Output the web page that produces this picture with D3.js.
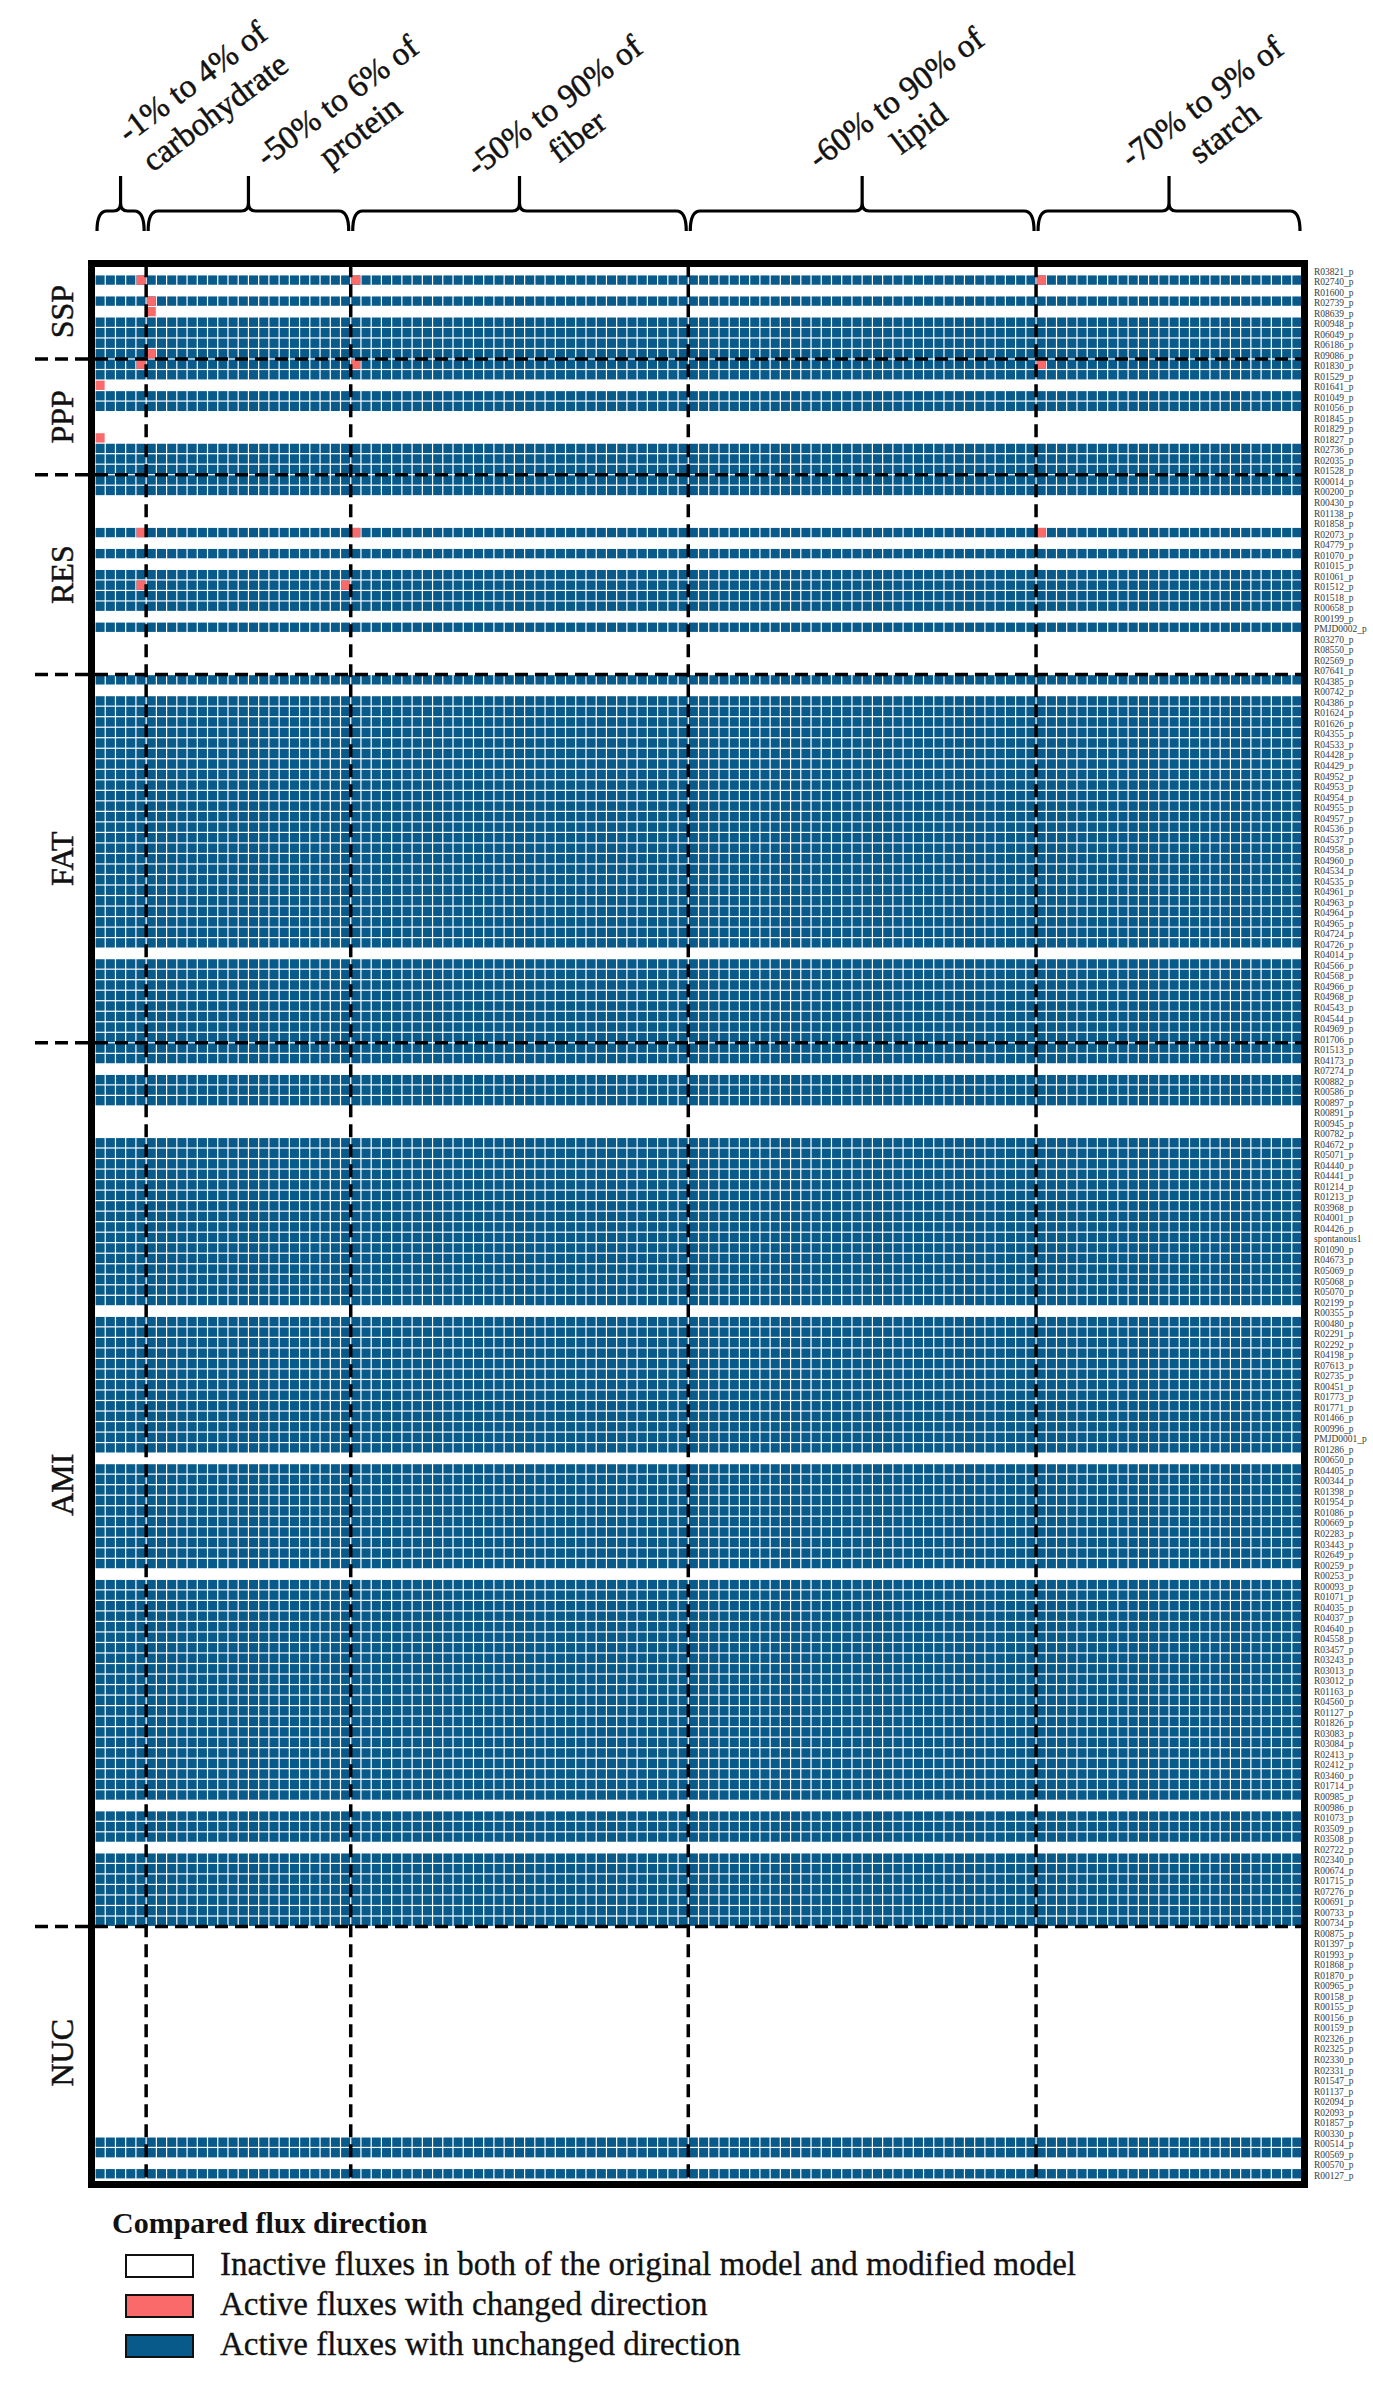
<!DOCTYPE html>
<html>
<head>
<meta charset="utf-8">
<script src="https://cdn.jsdelivr.net/npm/d3@7/dist/d3.min.js"></script>
<style>
  body { margin: 0; background: #fff; }
  text { font-family: "Palatino Linotype", "Book Antiqua", Palatino, "Liberation Serif", serif; }
  .heavy { stroke: #111; stroke-width: 0.5px; }
</style>
</head>
<body>
<div id="chart"></div>
<script>
// nutrient groups along the columns (one column per tested change)
var groupNames  = ["carbohydrate", "protein", "fiber", "lipid", "starch"];
var groupRanges = ["-1% to 4% of", "-50% to 6% of", "-50% to 90% of", "-60% to 90% of", "-70% to 9% of"];
var groupSizes  = [5, 20, 33, 34, 26];

// pathway sections along the rows
var sectionNames = ["SSP", "PPP", "RES", "FAT", "AMI", "NUC"];

var ssp = ["R03821_p","R02740_p","R01600_p","R02739_p","R08639_p","R00948_p","R06049_p","R06186_p","R09086_p"];
var sspActive = [0,1,0,1,0,1,1,1,1];

var ppp = ["R01830_p","R01529_p","R01641_p","R01049_p","R01056_p","R01845_p","R01829_p","R01827_p","R02736_p","R02035_p","R01528_p"];
var pppActive = [1,1,0,1,1,0,0,0,1,1,1];

var res = ["R00014_p","R00200_p","R00430_p","R01138_p","R01858_p","R02073_p","R04779_p","R01070_p","R01015_p","R01061_p",
           "R01512_p","R01518_p","R00658_p","R00199_p","PMJD0002_p","R03270_p","R08550_p","R02569_p","R07641_p"];
var resActive = [1,1,0,0,0,1,0,1,0,1, 1,1,1,0,1,0,0,0,0];

var fat = ["R04385_p","R00742_p","R04386_p","R01624_p","R01626_p","R04355_p","R04533_p","R04428_p","R04429_p","R04952_p",
           "R04953_p","R04954_p","R04955_p","R04957_p","R04536_p","R04537_p","R04958_p","R04960_p","R04534_p","R04535_p",
           "R04961_p","R04963_p","R04964_p","R04965_p","R04724_p","R04726_p","R04014_p","R04566_p","R04568_p","R04966_p",
           "R04968_p","R04543_p","R04544_p","R04969_p","R01706_p"];
var fatActive = [1,0,1,1,1,1,1,1,1,1, 1,1,1,1,1,1,1,1,1,1, 1,1,1,1,1,1,0,1,1,1, 1,1,1,1,1];

var ami = ["R01513_p","R04173_p","R07274_p","R00882_p","R00586_p","R00897_p","R00891_p","R00945_p","R00782_p","R04672_p",
           "R05071_p","R04440_p","R04441_p","R01214_p","R01213_p","R03968_p","R04001_p","R04426_p","spontanous1","R01090_p",
           "R04673_p","R05069_p","R05068_p","R05070_p","R02199_p","R00355_p","R00480_p","R02291_p","R02292_p","R04198_p",
           "R07613_p","R02735_p","R00451_p","R01773_p","R01771_p","R01466_p","R00996_p","PMJD0001_p","R01286_p","R00650_p",
           "R04405_p","R00344_p","R01398_p","R01954_p","R01086_p","R00669_p","R02283_p","R03443_p","R02649_p","R00259_p",
           "R00253_p","R00093_p","R01071_p","R04035_p","R04037_p","R04640_p","R04558_p","R03457_p","R03243_p","R03013_p",
           "R03012_p","R01163_p","R04560_p","R01127_p","R01826_p","R03083_p","R03084_p","R02413_p","R02412_p","R03460_p",
           "R01714_p","R00985_p","R00986_p","R01073_p","R03509_p","R03508_p","R02722_p","R02340_p","R00674_p","R01715_p",
           "R07276_p","R00691_p","R00733_p","R00734_p"];
var amiActive = [1,1,0,1,1,1,0,0,0,1, 1,1,1,1,1,1,1,1,1,1, 1,1,1,1,1,0,1,1,1,1,
                 1,1,1,1,1,1,1,1,1,0, 1,1,1,1,1,1,1,1,1,1, 0,1,1,1,1,1,1,1,1,1,
                 1,1,1,1,1,1,1,1,1,1, 1,1,0,1,1,1,0,1,1,1, 1,1,1,1];

var nuc = ["R00875_p","R01397_p","R01993_p","R01868_p","R01870_p","R00965_p","R00158_p","R00155_p","R00156_p","R00159_p",
           "R02326_p","R02325_p","R02330_p","R02331_p","R01547_p","R01137_p","R02094_p","R02093_p","R01857_p","R00330_p",
           "R00514_p","R00569_p","R00570_p","R00127_p"];
var nucActive = [0,0,0,0,0,0,0,0,0,0, 0,0,0,0,0,0,0,0,0,0, 1,1,0,1];

// active fluxes whose direction changed: [reaction, group, position in group]
var changedCells = [
  ["R02740_p","carbohydrate",4], ["R02740_p","fiber",0], ["R02740_p","starch",0],
  ["R02739_p","protein",0], ["R08639_p","protein",0], ["R09086_p","protein",0],
  ["R01830_p","carbohydrate",4], ["R01830_p","fiber",0], ["R01830_p","starch",0],
  ["R01641_p","carbohydrate",0], ["R01827_p","carbohydrate",0],
  ["R02073_p","carbohydrate",4], ["R02073_p","fiber",0], ["R02073_p","starch",0],
  ["R01512_p","carbohydrate",4], ["R01512_p","protein",19]
];

var legendLabels = ["Inactive fluxes in both of the original model and modified model",
                    "Active fluxes with changed direction",
                    "Active fluxes with unchanged direction"];

var BLUE = "#085a8b", PINK = "#fa6a6a";

var sectionRows = [ssp, ppp, res, fat, ami, nuc];
var sectionActive = [sspActive, pppActive, resActive, fatActive, amiActive, nucActive];
var reactions = [].concat.apply([], sectionRows);
var activeOf = {};
sectionRows.forEach(function(rows, s) {
  rows.forEach(function(r, i) { activeOf[r] = sectionActive[s][i]; });
});

var columns = [];
groupNames.forEach(function(g, gi) {
  for (var k = 0; k < groupSizes[gi]; k++) columns.push(g + "|" + k);
});

var W = 1373, H = 2383;
var gridLeft = 95, gridRight = 1302, gridTop = 264.3, gridBottom = 2179;

var svg = d3.select("#chart").append("svg")
  .attr("width", W).attr("height", H);

var x = d3.scaleBand().domain(columns).range([gridLeft, gridRight]);
var y = d3.scaleBand().domain(reactions).range([gridTop, gridBottom]);
var bw = x.bandwidth(), bh = y.bandwidth();

// cells
var cells = [];
reactions.forEach(function(r) {
  if (activeOf[r]) columns.forEach(function(c) { cells.push({r: r, c: c, fill: BLUE}); });
});
changedCells.forEach(function(d) {
  cells.push({r: d[0], c: d[1] + "|" + d[2], fill: PINK});
});

svg.append("g").selectAll("rect")
  .data(cells).enter()
  .append("rect")
  .attr("x", function(d) { return x(d.c) + 0.6; })
  .attr("y", function(d) { return y(d.r) + 0.6; })
  .attr("width", bw - 1.2)
  .attr("height", bh - 1.2)
  .attr("fill", function(d) { return d.fill; });

// group boundaries (vertical dashed)
var groupStarts = groupNames.map(function(g) { return x(g + "|0"); });
svg.append("g").selectAll("line")
  .data(groupStarts.slice(1)).enter()
  .append("line")
  .attr("x1", function(d) { return d; }).attr("x2", function(d) { return d; })
  .attr("y1", gridTop).attr("y2", gridBottom + 4)
  .attr("stroke", "#000").attr("stroke-width", 3.5)
  .attr("stroke-dasharray", "13,7");

// section boundaries (horizontal dashed)
var sectionStarts = sectionRows.map(function(rows) { return y(rows[0]); });
svg.append("g").selectAll("line")
  .data(sectionStarts.slice(1)).enter()
  .append("line")
  .attr("x1", 35).attr("x2", gridRight)
  .attr("y1", function(d) { return d; }).attr("y2", function(d) { return d; })
  .attr("stroke", "#000").attr("stroke-width", 3.5)
  .attr("stroke-dasharray", "13,7");

// frame
svg.append("rect")
  .attr("x", 91.5).attr("y", 263.5)
  .attr("width", 1213).attr("height", 1921)
  .attr("fill", "none").attr("stroke", "#000").attr("stroke-width", 7);

// section labels
svg.append("g").selectAll("text")
  .data(sectionNames).enter()
  .append("text")
  .attr("class", "heavy")
  .attr("transform", function(d, i) {
    var rows = sectionRows[i];
    var cy = (y(rows[0]) + y(rows[rows.length - 1]) + bh) / 2;
    return "translate(73," + cy + ")rotate(-90)";
  })
  .attr("text-anchor", "middle")
  .attr("font-size", 32)
  .attr("fill", "#111")
  .text(function(d) { return d; });

// reaction labels
svg.append("g").selectAll("text")
  .data(reactions).enter()
  .append("text")
  .attr("x", 1314)
  .attr("y", function(d) { return y(d) + bh / 2 + 2; })
  .attr("dominant-baseline", "central")
  .attr("font-size", 9.5)
  .attr("fill", "#3a3a3a")
  .text(function(d) { return d; });

// braces over each group
function brace(x0, x1) {
  var xm = (x0 + x1) / 2, yb = 211, ye = 231, yt = 176;
  return "M" + x0 + "," + ye +
    "Q" + x0 + "," + yb + " " + (x0 + 10) + "," + yb +
    "L" + (xm - 7) + "," + yb +
    "Q" + xm + "," + yb + " " + xm + "," + (yb - 8) +
    "L" + xm + "," + yt +
    "L" + xm + "," + (yb - 8) +
    "Q" + xm + "," + yb + " " + (xm + 7) + "," + yb +
    "L" + (x1 - 10) + "," + yb +
    "Q" + x1 + "," + yb + " " + x1 + "," + ye;
}
var groupEnds = groupNames.map(function(g, gi) { return x(g + "|" + (groupSizes[gi] - 1)) + bw; });
svg.append("g").selectAll("path")
  .data(groupNames).enter()
  .append("path")
  .attr("d", function(d, i) { return brace(groupStarts[i] + 2, groupEnds[i] - 2); })
  .attr("fill", "none").attr("stroke", "#000").attr("stroke-width", 3.2);

// header labels, slanted
var headerShiftX = [83, 100, 46, 45, 44];
var headerY = [97, 116, 121, 113, 117];
var heads = svg.append("g").selectAll("g")
  .data(groupNames).enter()
  .append("g")
  .attr("transform", function(d, i) {
    var xm = (groupStarts[i] + groupEnds[i]) / 2;
    return "translate(" + (xm + headerShiftX[i]) + "," + headerY[i] + ")rotate(-37)";
  });
heads.append("text")
  .attr("class", "heavy")
  .attr("y", -19).attr("dominant-baseline", "central")
  .attr("text-anchor", "middle").attr("font-size", 33).attr("fill", "#111")
  .text(function(d, i) { return groupRanges[i]; });
heads.append("text")
  .attr("class", "heavy")
  .attr("y", 19).attr("dominant-baseline", "central")
  .attr("text-anchor", "middle").attr("font-size", 33).attr("fill", "#111")
  .text(function(d) { return d; });

// legend
var legend = svg.append("g");
legend.append("text")
  .attr("x", 112).attr("y", 2233)
  .attr("font-size", 30).attr("font-weight", "bold").attr("fill", "#111")
  .text("Compared flux direction");
var legendFill = ["#fff", PINK, BLUE];
var legendY = [2266, 2306, 2346];
legend.selectAll("rect")
  .data(legendLabels).enter()
  .append("rect")
  .attr("x", 126).attr("y", function(d, i) { return legendY[i] - 11; })
  .attr("width", 67).attr("height", 22)
  .attr("fill", function(d, i) { return legendFill[i]; })
  .attr("stroke", "#111").attr("stroke-width", 2);
legend.selectAll("text.item")
  .data(legendLabels).enter()
  .append("text")
  .attr("class", "item heavy")
  .attr("x", 220).attr("y", function(d, i) { return legendY[i] + 9; })
  .attr("font-size", 33).attr("fill", "#111")
  .style("stroke-width", "0.3px")
  .text(function(d) { return d; });
</script>
</body>
</html>
